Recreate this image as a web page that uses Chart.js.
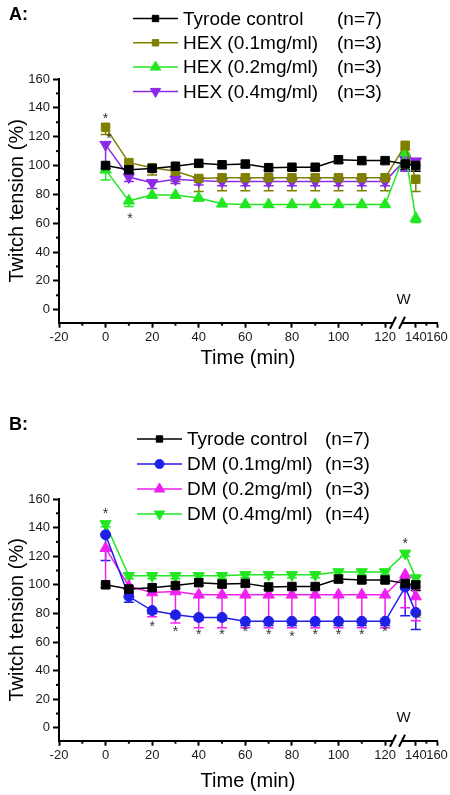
<!DOCTYPE html>
<html><head><meta charset="utf-8">
<script src="https://cdn.jsdelivr.net/npm/chart.js@4.4.1/dist/chart.umd.min.js"></script>
<style>body{margin:0;background:#fff}canvas{display:block}</style>
</head><body>
<canvas id="cA" width="450" height="397"></canvas>
<canvas id="cB" width="450" height="398"></canvas>
<script>
// ---------- data ----------
const times = [0,10,20,30,40,50,60,70,80,90,100,110,120,130,140];
const xTicks = [-20,0,20,40,60,80,100,120,140,160];
const xMinorTicks = [-10,10,30,50,70,90,110,150];
const yTicks = [0,20,40,60,80,100,120,140,160];
const yMinorTicks = [10,30,50,70,90,110,130,150];

const tyrode    = [100,97,98,99.5,101.5,100.5,101,98.5,98.8,98.8,104,103.4,103.4,101,100];
const tyrodeErr = [2,2,2,2,2,2,2,2,2,2,2,2,2,4,4];

const hex01    = [126.5,102,98.5,96,91,91.5,91.5,91.5,91.5,91.5,91.5,91.5,91.5,114,90.5];
const hex01Err = [5,3,5,7,9,9,9,9,9,9,9,9,9,3,8.5];
const hex02    = [97,75.5,79.5,79.5,77.5,73.5,73,73,73,73,73,73,73,109,63.5];
const hex02Err = [7,4,2,2,2,2,2,2,2,2,2,2,2,3,3];
const hex04    = [114.5,92,88,90.5,89.5,89,89,89,89,89,89,89,89,104,103];
const hex04Err = [15,3,4,3,3,3,3,3,3,3,3,3,3,8,3];

const dm01    = [135,91.8,82,79,77.2,77.2,74.5,74.5,74.5,74.5,74.5,74.5,74.5,98.4,80.7];
const dm01Err = [18,4,2,2,2,2,3,3,3,3,3,3,3,20,12];
const dm02    = [125.6,99,94.6,95.3,93,93,93,93,93,93,93,93,93,107,91.8];
const dm02Err = [25,5,17,22,23,23,23,23,23,23,23,23,23,23,17];
const dm04    = [142.6,106.3,106.3,106.3,106.3,106.3,107,107,107,107,109,109,109,122,104.7];
const dm04Err = [2,2,2,2,2,2,2,2,2,2,2,2,2,2,2];

const labelsA = ['Tyrode control','HEX (0.1mg/ml)','HEX (0.2mg/ml)','HEX (0.4mg/ml)'];
const nA = ['(n=7)','(n=3)','(n=3)','(n=3)'];
const labelsB = ['Tyrode control','DM (0.1mg/ml)','DM (0.2mg/ml)','DM (0.4mg/ml)'];
const nB = ['(n=7)','(n=3)','(n=3)','(n=4)'];

const starsA = [[0,135],[1.5,121],[10.5,66]];
const starsB = [[0,152],[20,73.5],[30,70],[40,67.5],[50,67.5],[60,70],[70,67.5],[80,66.5],[90,67.5],[100,67.5],[110,67.5],[120,70],[130,131.5],[143,79]];
const wMark = [128.5, 7];

// ---------- style ----------
const FONT = "'Liberation Sans', Arial, sans-serif";
const C = {black:'#000000', olive:'#808000', green:'#22e622', purple:'#8b2be8', blue:'#1f1fe6', magenta:'#f020f0'};
const BREAK = {leftMax:123.4, rightMin:127, leftFrac:0.8836, rightFrac:0.9074};

class BrokenScale extends Chart.LinearScale {
  getPixelForValue(value) {
    if (value === null || value === undefined || isNaN(value)) return NaN;
    const w = this.right - this.left;
    let f;
    if (value <= BREAK.leftMax) f = (value - this.min) / (BREAK.leftMax - this.min) * BREAK.leftFrac;
    else if (value < BREAK.rightMin) f = BREAK.leftFrac + (value - BREAK.leftMax) / (BREAK.rightMin - BREAK.leftMax) * (BREAK.rightFrac - BREAK.leftFrac);
    else f = BREAK.rightFrac + (value - BREAK.rightMin) / (this.max - BREAK.rightMin) * (1 - BREAK.rightFrac);
    return this.left + f * w;
  }
  getValueForPixel(pixel) {
    const f = (pixel - this.left) / (this.right - this.left);
    if (f <= BREAK.leftFrac) return this.min + f / BREAK.leftFrac * (BREAK.leftMax - this.min);
    if (f >= BREAK.rightFrac) return BREAK.rightMin + (f - BREAK.rightFrac) / (1 - BREAK.rightFrac) * (this.max - BREAK.rightMin);
    return BREAK.leftMax;
  }
}
BrokenScale.id = 'broken';
BrokenScale.defaults = Chart.LinearScale.defaults;
Chart.register(BrokenScale);

function marker(ctx, style, x, y, r, color) {
  ctx.save();
  ctx.fillStyle = color; ctx.strokeStyle = color; ctx.lineWidth = 1;
  ctx.beginPath();
  if (style === 'rect') { const s = r * Math.SQRT1_2; ctx.rect(x - s, y - s, 2 * s, 2 * s); }
  else if (style === 'circle') { ctx.arc(x, y, r, 0, Math.PI * 2); }
  else if (style === 'up') { ctx.moveTo(x, y - r); ctx.lineTo(x + r * 0.866, y + r * 0.5); ctx.lineTo(x - r * 0.866, y + r * 0.5); ctx.closePath(); }
  else if (style === 'down') { ctx.moveTo(x, y + r); ctx.lineTo(x + r * 0.866, y - r * 0.5); ctx.lineTo(x - r * 0.866, y - r * 0.5); ctx.closePath(); }
  ctx.fill(); ctx.stroke();
  ctx.restore();
}

const panelPlugin = {
  id: 'panel',
  beforeDatasetsDraw(chart) {
    const ctx = chart.ctx, ys = chart.scales.y;
    chart.data.datasets.forEach((ds, i) => {
      const meta = chart.getDatasetMeta(i);
      ctx.save();
      ctx.strokeStyle = ds.borderColor; ctx.lineWidth = 1.5;
      meta.data.forEach((pt, j) => {
        const e = ds.errDown[j]; if (!e) return;
        const v = ds.data[j].y;
        const y0 = ys.getPixelForValue(v), y1 = ys.getPixelForValue(v - e);
        ctx.beginPath();
        ctx.moveTo(pt.x, y0); ctx.lineTo(pt.x, y1);
        ctx.moveTo(pt.x - 5, y1); ctx.lineTo(pt.x + 5, y1);
        ctx.stroke();
      });
      ctx.restore();
    });
  },
  afterDraw(chart, args, o) {
    const ctx = chart.ctx, xs = chart.scales.x, ys = chart.scales.y, ca = chart.chartArea;
    ctx.save();
    // minor ticks
    ctx.strokeStyle = '#000'; ctx.lineWidth = 2;
    yMinorTicks.forEach(v => { const y = ys.getPixelForValue(v); ctx.beginPath(); ctx.moveTo(ca.left - 3, y); ctx.lineTo(ca.left, y); ctx.stroke(); });
    xMinorTicks.forEach(v => { const x = xs.getPixelForValue(v); ctx.beginPath(); ctx.moveTo(x, ca.bottom); ctx.lineTo(x, ca.bottom + 3); ctx.stroke(); });
    // axis break
    const w = ca.right - ca.left;
    const gl = ca.left + BREAK.leftFrac * w, gr = ca.left + BREAK.rightFrac * w;
    ctx.fillStyle = '#fff';
    ctx.fillRect(gl, ca.bottom - 2, gr - gl, 8);
    ctx.beginPath();
    ctx.moveTo(gl - 3, ca.bottom + 6); ctx.lineTo(gl + 3, ca.bottom - 6);
    ctx.moveTo(gr - 3, ca.bottom + 6); ctx.lineTo(gr + 3, ca.bottom - 6);
    ctx.stroke();
    // W label
    ctx.fillStyle = '#111'; ctx.font = '15px ' + FONT; ctx.textAlign = 'center'; ctx.textBaseline = 'middle';
    ctx.fillText('W', xs.getPixelForValue(wMark[0]), ys.getPixelForValue(wMark[1]));
    // stars
    ctx.font = '14px ' + FONT; ctx.fillStyle = '#333'; ctx.textBaseline = 'alphabetic';
    o.stars.forEach(s => { ctx.fillText('*', xs.getPixelForValue(s[0]), ys.getPixelForValue(s[1]) + 8); });
    // panel letter
    ctx.font = 'bold 18px ' + FONT; ctx.fillStyle = '#000'; ctx.textAlign = 'left'; ctx.textBaseline = 'middle';
    ctx.fillText(o.letter, 9, o.letterY);
    // legend
    ctx.font = '19px ' + FONT;
    chart.data.datasets.forEach((ds, i) => {
      const y = o.legY + i * o.legStep;
      ctx.strokeStyle = ds.borderColor; ctx.lineWidth = 1.5;
      ctx.beginPath(); ctx.moveTo(o.legX, y); ctx.lineTo(o.legX + 45, y); ctx.stroke();
      marker(ctx, ds.mk, o.legX + 22.5, y, ds.mk === 'rect' ? 4.5 : (ds.mk === 'circle' ? 4.5 : 6), ds.borderColor);
      ctx.fillStyle = '#000';
      ctx.fillText(ds.label, o.legX + 50, y + 1);
      ctx.fillText(o.nLabels[i], o.nX, y + 1);
    });
    ctx.restore();
  }
};

function ds(label, arr, err, color, mk) {
  const style = mk === 'rect' ? 'rect' : (mk === 'circle' ? 'circle' : 'triangle');
  return {
    label, mk, errDown: err,
    data: times.map((t, i) => ({x: t, y: arr[i]})),
    borderColor: color, backgroundColor: color,
    borderWidth: 1.5, tension: 0,
    pointStyle: style, pointRotation: mk === 'down' ? 180 : 0,
    pointRadius: mk === 'rect' ? 6 : (mk === 'circle' ? 5 : 6.5),
    pointBorderWidth: 1, pointBackgroundColor: color, pointBorderColor: color
  };
}

function makeOptions(o) {
  const tickFont = {family: FONT, size: 13};
  return {
    responsive: false, animation: false, devicePixelRatio: 1,
    layout: {padding: {top: o.top, right: 13, bottom: o.bottom, left: 0}},
    plugins: {legend: {display: false}, tooltip: {enabled: false}, panel: o.panel},
    scales: {
      x: {
        type: 'broken', min: -20, max: 160,
        afterBuildTicks: s => { s.ticks = xTicks.map(v => ({value: v})); },
        afterFit: s => { s.height = o.xh; },
        ticks: {autoSkip: false, maxRotation: 0, font: tickFont, color: '#1a1a1a', padding: 2, callback: v => String(v)},
        grid: {drawOnChartArea: false, tickLength: 5, tickWidth: 2, tickColor: '#000'},
        border: {color: '#000', width: 2},
        title: {display: true, text: 'Time (min)', font: {family: FONT, size: 20}, color: '#000', padding: 0}
      },
      y: {
        type: 'linear', min: -9, max: 160,
        afterBuildTicks: s => { s.ticks = yTicks.map(v => ({value: v})); },
        afterFit: s => { s.width = 59; },
        ticks: {autoSkip: false, font: tickFont, color: '#1a1a1a', padding: 3, callback: v => String(v)},
        grid: {drawOnChartArea: false, tickLength: 6, tickWidth: 2, tickColor: '#000'},
        border: {color: '#000', width: 2},
        title: {display: true, text: 'Twitch tension (%)', font: {family: FONT, size: 20}, color: '#000', padding: {top: 5, bottom: 0}}
      }
    }
  };
}

new Chart(document.getElementById('cA'), {
  type: 'line',
  data: {datasets: [
    ds(labelsA[0], tyrode, tyrodeErr, C.black, 'rect'),
    ds(labelsA[1], hex01, hex01Err, C.olive, 'rect'),
    ds(labelsA[2], hex02, hex02Err, C.green, 'up'),
    ds(labelsA[3], hex04, hex04Err, C.purple, 'down')
  ]},
  options: makeOptions({top: 79, bottom: 27, xh: 47.3,
    panel: {letter: 'A:', letterY: 15, legX: 133, legY: 18.5, legStep: 24.3, nX: 337, nLabels: nA, stars: starsA}}),
  plugins: [panelPlugin]
});

new Chart(document.getElementById('cB'), {
  type: 'line',
  data: {datasets: [
    ds(labelsB[0], tyrode, tyrodeErr, C.black, 'rect'),
    ds(labelsB[1], dm01, dm01Err, C.blue, 'circle'),
    ds(labelsB[2], dm02, dm02Err, C.magenta, 'up'),
    ds(labelsB[3], dm04, dm04Err, C.green, 'down')
  ]},
  options: makeOptions({top: 102, bottom: 1.3, xh: 53,
    panel: {letter: 'B:', letterY: 28, legX: 137, legY: 42, legStep: 25, nX: 325, nLabels: nB, stars: starsB}}),
  plugins: [panelPlugin]
});
</script>
</body></html>
